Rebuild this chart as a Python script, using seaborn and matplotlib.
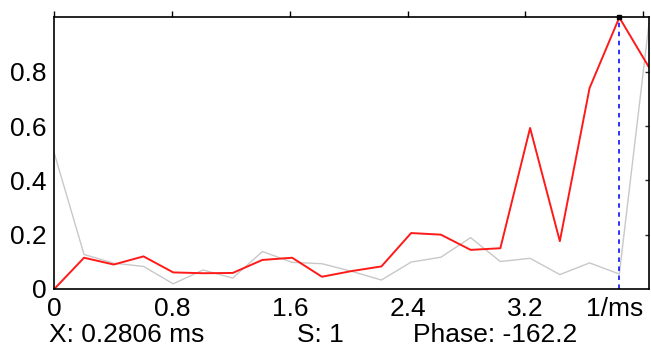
import matplotlib

matplotlib.use("Agg")

import matplotlib.pyplot as plt
import numpy as np
import pandas as pd
import seaborn as sns

# frequency bins (1/ms), spacing
bin_step = 0.202
bin_index = np.arange(21)

red_values = [0.0, 0.115, 0.09, 0.12, 0.061, 0.058, 0.059, 0.107, 0.115, 0.045,
              0.066, 0.083, 0.206, 0.200, 0.144, 0.150, 0.593, 0.176, 0.74, 1.0, 0.816]
gray_values = [0.50, 0.127, 0.095, 0.083, 0.019, 0.07, 0.04, 0.138, 0.098, 0.093,
               0.065, 0.033, 0.099, 0.117, 0.189, 0.101, 0.113, 0.053, 0.096, 0.055, 0.98]

cursor_index = 19

x_tick_values = [0, 0.8, 1.6, 2.4, 3.2, 4.0]
x_tick_labels = ["0", "0.8", "1.6", "2.4", "3.2", "1/ms"]
y_tick_values = [0, 0.2, 0.4, 0.6, 0.8, 1.0]
y_tick_labels = ["0", "0.2", "0.4", "0.6", "0.8", ""]

status_texts = ["X: 0.2806 ms", "S: 1", "Phase: -162.2"]


def plot_spectrum(output_path: str) -> None:
    sns.set_style("white")
    plt.rcParams["font.family"] = ["Liberation Sans", "DejaVu Sans"]

    frequency = bin_index * bin_step
    frame = pd.DataFrame({"freq": frequency, "red": red_values, "gray": gray_values})

    figure = plt.figure(figsize=(6.51, 3.49), dpi=100)
    axis = figure.add_axes([0.0834, 0.172, 0.9136, 0.778])

    sns.lineplot(data=frame, x="freq", y="gray", color="#c8c8c8", linewidth=1.0, ax=axis)
    sns.lineplot(data=frame, x="freq", y="red", color="#ff1a1a", linewidth=1.4, ax=axis)

    cursor_x = frequency[cursor_index]
    cursor_y = red_values[cursor_index]
    axis.plot([cursor_x, cursor_x], [0, cursor_y], color="#2020ff",
              linestyle=(0, (2.5, 2.5)), linewidth=1.3)
    axis.plot([cursor_x], [cursor_y], marker="s", markersize=3.5,
              color="black", clip_on=False)

    axis.set_xlim(0, frequency[-1])
    axis.set_ylim(0, 1.0)
    axis.set_xlabel("")
    axis.set_ylabel("")

    axis.set_xticks(x_tick_values, x_tick_labels)
    axis.set_yticks(y_tick_values, y_tick_labels)
    axis.get_xticklabels()[-1].set_horizontalalignment("right")
    axis.get_xticklabels()[-1].set_x(4.0)

    axis.tick_params(axis="x", direction="out", top=True, length=4.5, width=1.0,
                     pad=1, labelsize=19, colors="black")
    axis.tick_params(axis="y", direction="out", length=4.5, width=1.0,
                     pad=1, labelsize=19, colors="black")

    right_axis = axis.secondary_yaxis("right")
    right_axis.set_yticks(y_tick_values[1:-1])
    right_axis.tick_params(direction="in", length=3, width=1.0, labelright=False)
    right_axis.spines["right"].set_visible(False)

    for spine in axis.spines.values():
        spine.set_color("black")
        spine.set_linewidth(1.2)

    status_x = [49 / 651, 297 / 651, 413 / 651]
    for text, x_pos in zip(status_texts, status_x):
        figure.text(x_pos, 1 - 341.5 / 349, text, fontsize=19, va="baseline",
                    ha="left", color="black")

    figure.savefig(output_path, dpi=100)
    plt.close(figure)


plot_spectrum("out.png")
